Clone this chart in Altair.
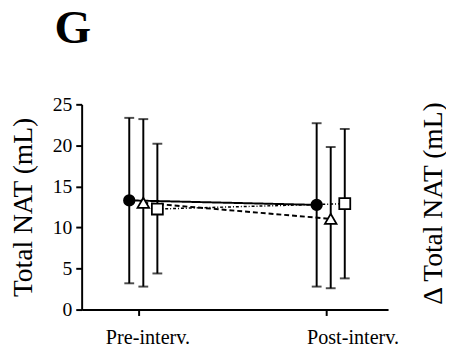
import altair as alt
import pandas as pd

# ---- data ----
time_labels = ["Pre-interv.", "Post-interv."]
time_index = [0, 1]
groups = ["circle", "triangle", "square"]

mean_circle = [13.3, 12.75]
lo_circle = [3.2, 2.8]
hi_circle = [23.35, 22.7]

mean_triangle = [13.0, 11.05]
lo_triangle = [2.8, 2.6]
hi_triangle = [23.2, 19.8]

mean_square = [12.25, 12.9]
lo_square = [4.4, 3.8]
hi_square = [20.2, 22.0]

y_ticks = [0, 5, 10, 15, 20, 25]
panel_letter = "G"
y_title = "Total NAT (mL)"
y2_title = "\u0394 Total NAT (mL)"

# ---- layout / style ----
FONT = "Liberation Serif"
offsets = {"circle": -0.05, "triangle": 0.025, "square": 0.10}
shapes = {"circle": "circle", "triangle": "triangle-up", "square": "square"}
sizes = {"circle": 115, "triangle": 140, "square": 125}
fills = {"circle": "black", "triangle": "white", "square": "white"}
dashes = {"circle": [1, 0], "triangle": [5, 3], "square": [3, 2, 1, 2]}
widths = {"circle": 2, "triangle": 2, "square": 1.5}

series = {
    "circle": (mean_circle, lo_circle, hi_circle),
    "triangle": (mean_triangle, lo_triangle, hi_triangle),
    "square": (mean_square, lo_square, hi_square),
}
rows = []
for g in groups:
    m, lo, hi = series[g]
    for i, t in enumerate(time_index):
        rows.append(dict(group=g, t=t, x=t + offsets[g], mean=m[i], lo=lo[i], hi=hi[i]))
df = pd.DataFrame(rows)

xs = alt.Scale(domain=[-0.304, 1.331], nice=False, zero=False)
ys = alt.Scale(domain=[0, 25], nice=False, zero=True)

label_expr = f"datum.value == 0 ? '{time_labels[0]}' : '{time_labels[1]}'"
x_axis = alt.Axis(
    values=time_index, labelExpr=label_expr, title=None, labelPadding=13,
    labelFontSize=20.5,
    labelOffset={"condition": {"test": "datum.value == 0", "value": 9}, "value": 27},
)
y_axis = alt.Axis(values=y_ticks, title=y_title, labelPadding=4, titlePadding=15)

X = alt.X("x:Q", scale=xs, axis=x_axis)
Y = alt.Y("mean:Q", scale=ys, axis=y_axis)

base = alt.Chart(df)
layers = []
for g in groups:
    layers.append(
        base.transform_filter(alt.datum.group == g)
        .mark_line(color="black", strokeWidth=widths[g], strokeDash=dashes[g])
        .encode(x=X, y=Y, order="t:Q")
    )
# error bars
layers.append(
    base.mark_rule(color="black", strokeWidth=2).encode(
        x=X, y=alt.Y("lo:Q", scale=ys, axis=y_axis), y2="hi:Q"
    )
)
for col in ["lo", "hi"]:
    layers.append(
        base.mark_tick(color="black", orient="horizontal", size=10, thickness=2).encode(
            x=X, y=alt.Y(f"{col}:Q", scale=ys, axis=y_axis)
        )
    )
for g in groups:
    layers.append(
        base.transform_filter(alt.datum.group == g)
        .mark_point(shape=shapes[g], filled=True, fill=fills[g], stroke="black",
                    strokeWidth=1.8, size=sizes[g], opacity=1)
        .encode(x=X, y=Y)
    )

txt = pd.DataFrame({"a": [0]})
letter = alt.Chart(txt).mark_text(
    text=panel_letter, font=FONT, fontSize=48, fontWeight="bold", color="black",
    align="center", baseline="alphabetic",
).encode(x=alt.value(-9), y=alt.value(-62))
right_title = alt.Chart(txt).mark_text(
    text=y2_title, font=FONT, fontSize=28, color="black", angle=270,
    align="center", baseline="middle",
).encode(x=alt.value(359), y=alt.value(101))

chart = (
    alt.layer(*layers, letter, right_title)
    .properties(
        width=312, height=209,
        autosize=alt.AutoSizeParams(type="none"),
        padding={"left": 75, "top": 95, "right": 59, "bottom": 34},
    )
    .configure_view(stroke=None)
    .configure_axis(
        grid=False, domainColor="black", domainWidth=2, tickColor="black",
        tickWidth=2, tickSize=6, labelFont=FONT, labelFontSize=20,
        labelColor="black", titleFont=FONT, titleFontSize=28,
        titleFontWeight="normal", titleColor="black",
    )
    .configure_text(font=FONT)
)

chart.save("out.html", embed_options={"renderer": "svg", "actions": False})
